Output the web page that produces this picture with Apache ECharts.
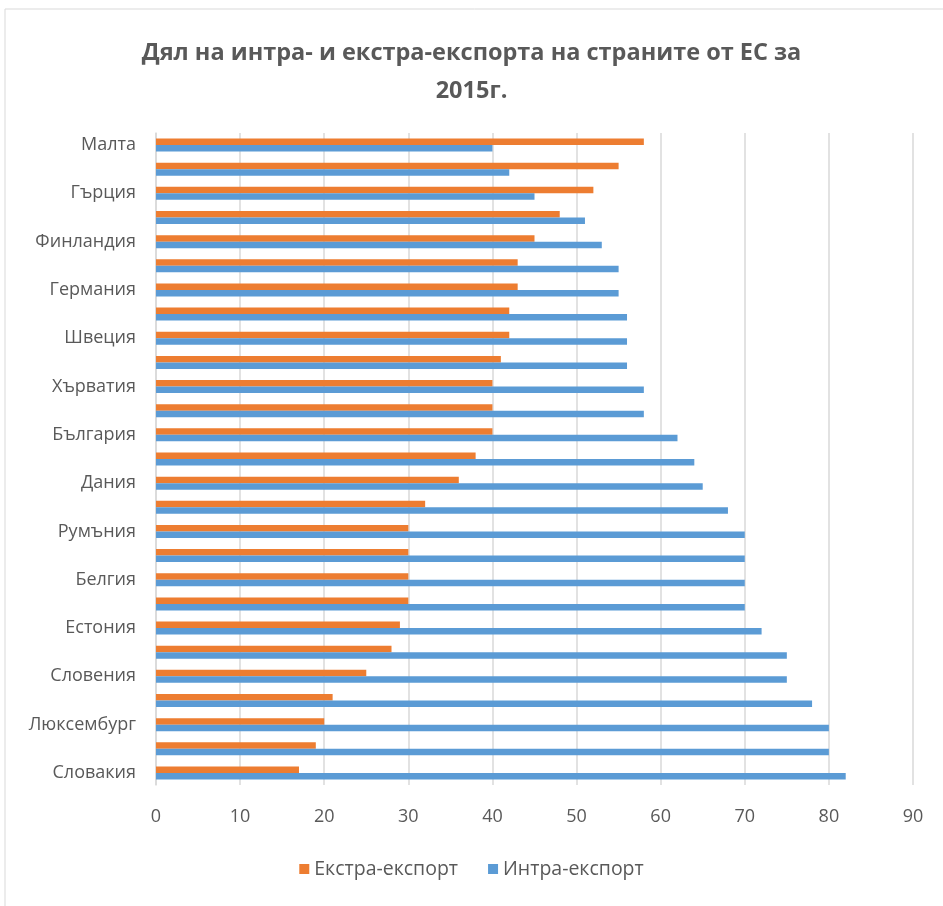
<!DOCTYPE html>
<html>
<head>
<meta charset="utf-8">
<script src="https://cdn.jsdelivr.net/npm/echarts@6/dist/echarts.min.js"></script>
<style>
html,body{margin:0;padding:0;background:#fff;}
#chart{width:943px;height:906px;}
</style>
</head>
<body>
<div id="chart"></div>
<script>
const categories = ['Малта','Кипър','Гърция','Обединено кралство','Финландия','Ирландия','Германия','Италия','Швеция','Франция','Хърватия','Литва','България','Испания','Дания','Латвия','Румъния','Нидерландия','Белгия','Португалия','Естония','Полша','Словения','Австрия','Люксембург','Унгария','Словакия'];
const extraExport = [58,55,52,48,45,43,43,42,42,41,40,40,40,38,36,32,30,30,30,30,29,28,25,21,20,19,17];
const intraExport = [40,42,45,51,53,55,55,56,56,56,58,58,62,64,65,68,70,70,70,70,72,75,75,78,80,80,82];
const xTicks = {min:0, max:90, interval:10};
const titleText = 'Дял на интра- и екстра-експорта на страните от ЕС за\n2015г.';
const seriesNames = ['Екстра-експорт','Интра-експорт'];

const chart = echarts.init(document.getElementById('chart'));
chart.setOption({
  animation:false,
  backgroundColor:'#fff',
  graphic:[{type:'rect',shape:{x:5,y:9,width:1000,height:1000},style:{fill:'none',stroke:'#d9d9d9',lineWidth:1}}],
  title:{text:titleText,left:'center',top:29,textStyle:{fontFamily:'Open Sans',fontWeight:'bold',fontSize:23.5,color:'#595959',lineHeight:38}},
  legend:{bottom:22,left:'center',itemWidth:10,itemHeight:10,itemGap:30,icon:'rect',
    textStyle:{fontFamily:'Open Sans',fontSize:19.5,color:'#595959'},data:seriesNames},
  grid:{left:156,right:30,top:133,bottom:121,containLabel:false},
  xAxis:{type:'value',min:xTicks.min,max:xTicks.max,interval:xTicks.interval,
    axisLine:{show:false},axisTick:{show:false},
    axisLabel:{fontFamily:'Open Sans',fontSize:18,color:'#595959',margin:23},
    splitLine:{show:true,lineStyle:{color:'#d9d9d9',width:1.5}}},
  yAxis:{type:'category',data:categories,inverse:true,
    axisLine:{show:true,lineStyle:{color:'#d9d9d9',width:1.5}},axisTick:{show:false},
    axisLabel:{interval:1,fontFamily:'Open Sans',fontSize:18,color:'#595959',margin:20}},
  series:[
    {name:seriesNames[0],type:'bar',data:extraExport,barWidth:6.5,barGap:'0%',itemStyle:{color:'#ED7D31'}},
    {name:seriesNames[1],type:'bar',data:intraExport,barWidth:6.5,barGap:'0%',itemStyle:{color:'#5B9BD5'}}
  ]
});
</script>
</body>
</html>
